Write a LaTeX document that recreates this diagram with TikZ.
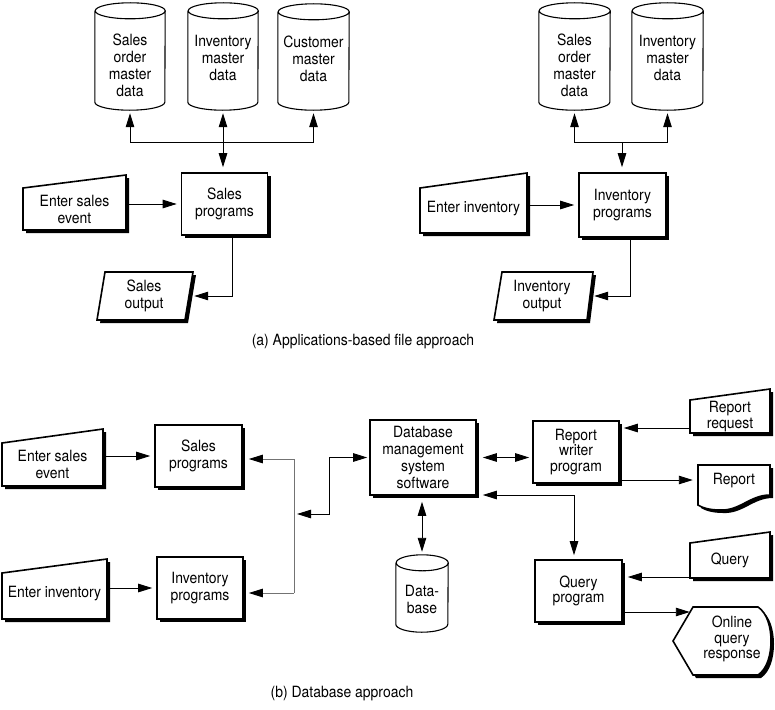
\documentclass[tikz,border=0pt]{standalone}
\usepackage{fontspec}
\setmainfont{TeX Gyre Heros}[FakeStretch=0.9]
\usetikzlibrary{arrows.meta,shadows}
\tikzset{
  txt/.style={align=center, inner sep=0pt, font=\fontsize{15.5}{17}\selectfont},
  tight/.style={font=\fontsize{15.5}{15.3}\selectfont},
  prog/.style={txt, draw, line width=1.6pt, fill=white,
    drop shadow={shadow xshift=3pt, shadow yshift=-3pt, opacity=1, fill=black}},
  shapeline/.style={line width=1.6pt, fill=white, line join=miter},
  cylline/.style={line width=1.1pt},
  conn/.style={line width=0.9pt},
  arr/.style={conn, -{Triangle[length=14pt,width=8.5pt]}},
  arrb/.style={conn, {Triangle[length=14pt,width=8.5pt]}-{Triangle[length=14pt,width=8.5pt]}},
  garr/.style={conn, draw=black!55, -{Triangle[length=14pt,width=8.5pt,color=black]}},
}
% cylinder: name, left x, right x, top y, bottom y, text centre y, text
\newcommand\dbcyl[7]{%
  \pgfmathsetmacro\cylrx{(#3-#2)/2}%
  \pgfmathsetmacro\cylw{#3-#2}%
  \pgfmathsetmacro\cylh{#5-#4}%
  \node[minimum width=\cylw pt, minimum height=\cylh pt, inner sep=0pt] (#1) at ({(#2+#3)/2},{(#4+#5)/2}) {};
  \draw[cylline] ([yshift=-8pt]#1.north west) -- ([yshift=8pt]#1.south west)
     arc[start angle=180, end angle=360, x radius=\cylrx pt, y radius=8pt]
     -- ([yshift=-8pt]#1.north east)
     arc[start angle=0, end angle=360, x radius=\cylrx pt, y radius=8pt];
  \node[txt] (#1-t) at ({(#2+#3)/2},#6) {#7};
}
% outlined shape with a solid drop shadow
\newcommand\shpath[1]{\fill[black, shift={(3,3)}] #1; \filldraw[shapeline] #1;}
\begin{document}
\begin{tikzpicture}[x=1pt,y=-1pt]
\useasboundingbox (0,0) rectangle (775,709);

% ---------- (a) left ----------
\dbcyl{c1}{95}{165}{3}{110}{65.5}{Sales\\order\\master\\data}
\dbcyl{c2}{188}{258}{3}{110}{58}{Inventory\\master\\data}
\dbcyl{c3}{278}{349}{4}{110}{59}{Customer\\master\\data}
\node[prog, minimum width=86pt, minimum height=62pt] (sp) at (224.5,204) {Sales\\programs};
\shpath{(23,188) -- (126,175) -- (126,230) -- (23,230) -- cycle}
\node[txt, minimum width=103pt, minimum height=42pt] (ese) at (74.5,209) {Enter sales\\event};
\shpath{(105,272) -- (193,272) -- (185,320) -- (97,320) -- cycle}
\node[txt, minimum width=88pt, minimum height=48pt] (so) at (144,296) {Sales\\output};
\coordinate (hubL) at (223,142);
\draw[arr, shorten >=3pt] (hubL) -| (c1.south);
\draw[arr, shorten >=3pt] (hubL) -| (c3.south);
\draw[arrb, shorten <=3pt, shorten >=5pt] (c2.south) -- (c2.south |- sp.north);
\draw[arr, shorten >=4pt] (ese.east |- sp.west) -- (sp.west);
\draw[arr, shorten >=6pt] ([xshift=8pt]sp.south) |- (so.east);

% ---------- (a) right ----------
\dbcyl{cA}{539}{610}{3}{110}{65.5}{Sales\\order\\master\\data}
\dbcyl{cB}{632}{703}{3}{110}{58}{Inventory\\master\\data}
\node[prog, minimum width=87pt, minimum height=64pt] (ip) at (622.5,205) {Inventory\\programs};
\shpath{(420,188) -- (527,173) -- (527,233) -- (420,233) -- cycle}
\node[txt, minimum width=107pt, minimum height=45pt] (ei) at (473.5,209) {Enter inventory};
\shpath{(502,272) -- (593,272) -- (587,320) -- (494,320) -- cycle}
\node[txt, minimum width=92pt, minimum height=48pt] (io) at (542,296) {Inventory\\output};
\coordinate (hubR) at (622,142);
\draw[arr, shorten >=3pt] (hubR) -| (cA.south);
\draw[arr, shorten >=3pt] (hubR) -| (cB.south);
\draw[arr, shorten >=5pt] (hubR) -- (hubR |- ip.north);
\draw[arr, shorten >=4pt] (ei.east |- ip.west) -- (ip.west);
\draw[arr, shorten >=6pt] ([xshift=8pt]ip.south) |- (io.east);

\node[txt] (capa) at (363,342) {(a) Applications-based file approach};

% ---------- (b) ----------
\shpath{(2,443) -- (103,429) -- (103,486) -- (2,486) -- cycle}
\node[txt, minimum width=101pt, minimum height=43pt] (bese) at (52.5,464.5) {Enter sales\\event};
\node[prog, minimum width=87pt, minimum height=62pt] (bsp) at (198.5,456) {Sales\\programs};
\shpath{(2,573) -- (107,559) -- (107,619) -- (2,619) -- cycle}
\node[txt, minimum width=105pt, minimum height=46pt] (bei) at (54.5,594) {Enter inventory};
\node[prog, minimum width=86pt, minimum height=62pt] (bip) at (200,588) {Inventory\\programs};
\draw[arr, shorten >=4pt] (bese.east |- bsp.west) -- (bsp.west);
\draw[arr, shorten >=4pt] (bei.east |- bip.west) -- (bip.west);

\coordinate (busT) at (294,459);
\coordinate (busB) at (294,593);
\coordinate (busM) at (294,514);
\coordinate (bend) at (329,514);
\draw[conn, draw=black!55] (busT) -- (busB);
\draw[garr, shorten >=6pt] (busT) -- (busT -| bsp.east);
\draw[garr, shorten >=5pt] (busB) -- (busB -| bip.east);

\node[prog, minimum width=106pt, minimum height=75pt] (dbms) at (423,457.5) {Database\\management\\system\\software};
\draw[arrb, shorten <=3pt, shorten >=2pt] (busM) -- (bend) |- (dbms.west);

\node[prog, tight, minimum width=86pt, minimum height=62pt] (rwp) at (576,452) {Report\\writer\\program};
\draw[arrb, shorten <=6pt, shorten >=3pt] (dbms.east) -- (dbms.east -| rwp.west);

\shpath{(690,400) -- (770,389) -- (770,433) -- (690,433) -- cycle}
\node[txt, tight, minimum width=80pt, minimum height=33pt] (rr) at (730,416.5) {Report\\request};
\draw[arr, shorten >=4pt] ([yshift=-11.5pt]rr.west) -- ([yshift=-11.5pt]rr.west -| rwp.east);

\shpath{(698,465) -- (770,465) -- (770,495) .. controls (750,495) and (740,511) .. (720,510) .. controls (708,510) and (701,507) .. (698,505) -- cycle}
\node[txt, minimum width=72pt, minimum height=32pt] (rep) at (734,481) {Report};
\draw[arr, shorten >=5pt] ([yshift=-28pt]rwp.east) -- ([yshift=-28pt]rwp.east -| rep.west);

\dbcyl{db}{396}{448}{555}{632}{599.5}{Data-\\base}
\draw[arrb, shorten <=6pt, shorten >=3pt] (db.north |- dbms.south) -- (db.north);

\node[prog, tight, minimum width=87pt, minimum height=62pt] (qp) at (578.5,591) {Query\\program};
\draw[arrb, shorten <=6pt, shorten >=4pt] ([yshift=-37.5pt]dbms.east) -| ([xshift=-4.5pt]qp.north);

\shpath{(690,543) -- (770,532) -- (770,578) -- (690,578) -- cycle}
\node[txt, minimum width=80pt, minimum height=35pt] (q) at (730,560.5) {Query};
\draw[arr, shorten >=5pt] ([yshift=-16.5pt]q.west) -- ([yshift=-16.5pt]q.west -| qp.east);

\shpath{(673,641) -- (693,607) -- (758,607) .. controls (767,613) and (771,627) .. (771,641) .. controls (771,655) and (767,669) .. (758,675) -- (693,675) -- cycle}
\node[txt, tight, minimum width=78pt, minimum height=68pt] (oqr) at (732,639) {Online\\query\\response};
\draw[arr, shorten >=3pt] ([yshift=-21pt]qp.east) -- ([yshift=-21pt]qp.east -| oqr.west);

\node[txt] (capb) at (342,694) {(b) Database approach};
\end{tikzpicture}
\end{document}
